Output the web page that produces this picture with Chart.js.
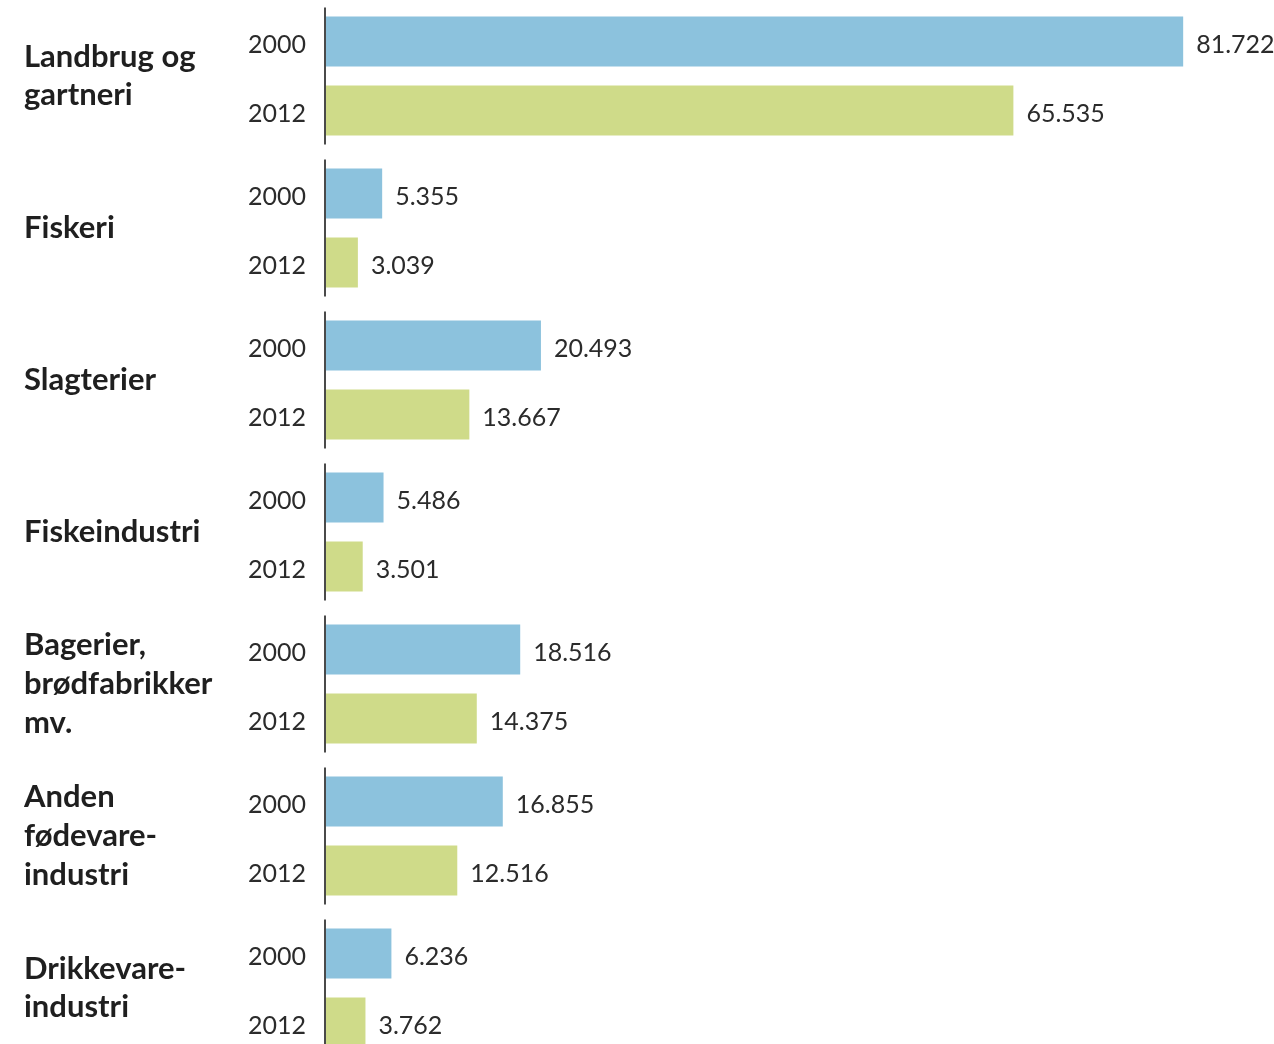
<!DOCTYPE html>
<html>
<head>
<meta charset="utf-8">
<script src="https://cdn.jsdelivr.net/npm/chart.js@4"></script>
<style>
  html, body { margin: 0; padding: 0; background: #fff; overflow: hidden; }
  #clip { width: 1274px; height: 1044px; overflow: hidden; position: relative; }
  #wrap { width: 1274px; height: 1064px; position: relative; }
</style>
</head>
<body>
<div id="clip"><div id="wrap"><canvas id="c"></canvas></div></div>
<script>
const categories = [
  ["Landbrug og", "gartneri"],
  ["Fiskeri"],
  ["Slagterier"],
  ["Fiskeindustri"],
  ["Bagerier,", "brødfabrikker", "mv."],
  ["Anden", "fødevare-", "industri"],
  ["Drikkevare-", "industri"]
];
const seriesNames = ["2000", "2012"];
const values2000 = [81722, 5355, 20493, 5486, 18516, 16855, 6236];
const values2012 = [65535, 3039, 13667, 3501, 14375, 12516, 3762];

const fmt = v => String(v).replace(/\B(?=(\d{3})+(?!\d))/g, ".");

const labelPlugin = {
  id: 'labelPlugin',
  afterDatasetsDraw(chart) {
    const ctx = chart.ctx;
    const xs = chart.scales.x, ys = chart.scales.y;
    const x0 = xs.getPixelForValue(0);
    const catH = ys.height / categories.length;
    ctx.save();
    ctx.strokeStyle = '#4a4a4a';
    ctx.lineWidth = 2;
    categories.forEach((c, i) => {
      const cy = ys.getPixelForValue(i);
      ctx.beginPath();
      ctx.moveTo(x0 - 1, cy - catH * 0.45);
      ctx.lineTo(x0 - 1, cy + catH * 0.45);
      ctx.stroke();
    });
    ctx.font = '25px Lato';
    ctx.fillStyle = '#2b2b2b';
    ctx.textBaseline = 'middle';
    chart.data.datasets.forEach((ds, di) => {
      const meta = chart.getDatasetMeta(di);
      meta.data.forEach((bar, i) => {
        ctx.textAlign = 'right';
        ctx.fillText(seriesNames[di], bar.base - 20, bar.y + 3);
        ctx.textAlign = 'left';
        ctx.fillText(fmt(ds.data[i]), bar.x + 13, bar.y + 3);
      });
    });
    ctx.restore();
  }
};

new Chart(document.getElementById('c'), {
  type: 'bar',
  data: {
    labels: categories,
    datasets: [
      { label: seriesNames[0], data: values2000, backgroundColor: '#8cc2dd', categoryPercentage: 0.908, barPercentage: 0.725 },
      { label: seriesNames[1], data: values2012, backgroundColor: '#cfdb89', categoryPercentage: 0.908, barPercentage: 0.725 }
    ]
  },
  options: {
    indexAxis: 'y',
    responsive: true,
    maintainAspectRatio: false,
    animation: false,
    layout: { padding: { left: 24, right: 4, top: 0, bottom: 0 } },
    plugins: { legend: { display: false }, tooltip: { enabled: false } },
    scales: {
      x: { display: false, min: 0, max: 90000 },
      y: {
        grid: { display: false, drawTicks: false },
        border: { display: false },
        afterFit(scale) { scale.width = 302; scale.paddingTop = 0; scale.paddingBottom = 0; },
        ticks: {
          crossAlign: 'far',
          padding: 0,
          color: '#1f1f1f',
          font: { family: 'Lato', size: 31, weight: 'bold', lineHeight: 1.25 }
        }
      }
    }
  },
  plugins: [labelPlugin]
});
</script>
</body>
</html>
